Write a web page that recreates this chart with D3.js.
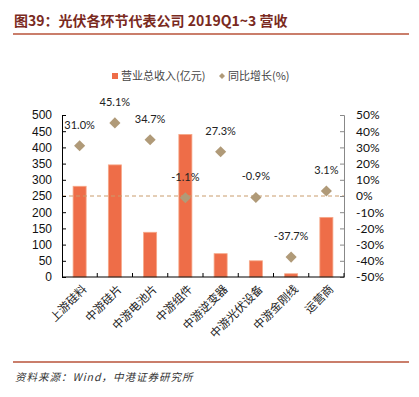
<!DOCTYPE html>
<html>
<head>
<meta charset="utf-8">
<script src="https://cdn.jsdelivr.net/npm/d3@7"></script>
<style>
  body { margin: 0; background: #fff; }
  svg text { font-family: "Liberation Sans", Arial, sans-serif; }
</style>
</head>
<body>
<div id="chart"></div>
<script>
const categories = ["上游硅料", "中游硅片", "中游电池片", "中游组件", "中游逆变器", "中游光伏设备", "中游金刚线", "运营商"];
const revenue = [280, 346, 138, 440, 72, 50, 10, 184];
const growth = [31.0, 45.1, 34.7, -1.1, 27.3, -0.9, -37.7, 3.1];
const leftTicks = [0, 50, 100, 150, 200, 250, 300, 350, 400, 450, 500];
const rightTicks = [-50, -40, -30, -20, -10, 0, 10, 20, 30, 40, 50];

const W = 419, H = 397;
const margin = { top: 115, right: 75, bottom: 120, left: 62 },
      width = W - margin.left - margin.right,
      height = H - margin.top - margin.bottom;

const svg = d3.select("#chart").append("svg")
    .attr("width", W)
    .attr("height", H);

// title + rules
svg.append("text")
    .attr("x", 14).attr("y", 26)
    .style("font-family", "'Noto Sans CJK SC', sans-serif")
    .style("font-weight", "bold")
    .style("font-size", "14px")
    .attr("fill", "#7a2a1e")
    .text("图39：光伏各环节代表公司 2019Q1~3 营收");

svg.append("line")
    .attr("x1", 13).attr("x2", 409).attr("y1", 34).attr("y2", 34)
    .attr("stroke", "#b8533a").attr("stroke-width", 1.5);

svg.append("line")
    .attr("x1", 13).attr("x2", 409).attr("y1", 362).attr("y2", 362)
    .attr("stroke", "#b8533a").attr("stroke-width", 1.5);

svg.append("text")
    .attr("x", 15).attr("y", 381)
    .style("font-family", "'Noto Sans CJK SC', sans-serif")
    .style("font-style", "italic")
    .style("font-size", "10.5px")
    .style("letter-spacing", "1px")
    .attr("fill", "#333")
    .text("资料来源：Wind，中港证券研究所");

// legend
const legend = svg.append("g").attr("transform", "translate(0,76)");
legend.append("rect").attr("x", 112).attr("y", -3).attr("width", 6).attr("height", 6).attr("fill", "#ee6d48");
legend.append("text").attr("x", 121).attr("y", 4)
    .style("font-family", "'Noto Sans CJK SC', sans-serif")
    .style("font-size", "11px").attr("fill", "#444")
    .text("营业总收入(亿元)");
legend.append("path")
    .attr("d", d3.symbol(d3.symbolSquare, 18)())
    .attr("transform", "translate(222,0) rotate(45)")
    .attr("fill", "#b09a78");
legend.append("text").attr("x", 228).attr("y", 4)
    .style("font-family", "'Noto Sans CJK SC', sans-serif")
    .style("font-size", "11px").attr("fill", "#444")
    .text("同比增长(%)");

const g = svg.append("g")
    .attr("transform", "translate(" + margin.left + "," + margin.top + ")");

const x = d3.scaleBand().domain(categories).range([0, width]).paddingInner(0.63).paddingOuter(0.315);
const y = d3.scaleLinear().domain([0, 500]).range([height, 0]);
const y2 = d3.scaleLinear().domain([-50, 50]).range([height, 0]);

// bars
g.selectAll(".bar")
    .data(categories)
  .enter().append("rect")
    .attr("class", "bar")
    .attr("x", d => x(d))
    .attr("width", x.bandwidth())
    .attr("y", (d, i) => y(revenue[i]))
    .attr("height", (d, i) => height - y(revenue[i]))
    .attr("fill", "#ee6d48")
    .attr("stroke", "#f6a888")
    .attr("stroke-width", 0.8);

// zero line of growth
g.append("line")
    .attr("x1", 0).attr("x2", width)
    .attr("y1", y2(0)).attr("y2", y2(0))
    .attr("stroke", "#c99c6c")
    .attr("stroke-dasharray", "4,3");

// left axis
const axL = g.append("g")
    .call(d3.axisLeft(y).tickValues(leftTicks).tickSize(-4).tickPadding(10));
axL.select(".domain").attr("stroke", "#000");
axL.selectAll(".tick line").attr("stroke", "#000");
axL.selectAll("text").style("font-size", "12px").attr("fill", "#111");

// right axis
const axR = g.append("g")
    .attr("transform", "translate(" + width + ",0)")
    .call(d3.axisRight(y2).tickValues(rightTicks).tickSize(-4).tickPadding(12).tickFormat(d => d + "%"));
axR.select(".domain").attr("stroke", "#888");
axR.selectAll(".tick line").attr("stroke", "#888");
axR.selectAll("text")
    .style("font-family", "Lato, 'Open Sans', sans-serif")
    .style("font-size", "12px").attr("fill", "#111");

// bottom axis with ticks between categories
const xb = g.append("g").attr("transform", "translate(0," + height + ")");
xb.append("line").attr("x1", 0).attr("x2", width).attr("stroke", "#000");
const step = x.step();
xb.selectAll(".sep")
    .data(d3.range(1, categories.length + 1))
  .enter().append("line")
    .attr("x1", d => x(categories[0]) - x.step() * x.paddingInner() / 2 + d * step)
    .attr("x2", d => x(categories[0]) - x.step() * x.paddingInner() / 2 + d * step)
    .attr("y1", 0).attr("y2", -4)
    .attr("stroke", "#000");
xb.selectAll(".xl")
    .data(categories)
  .enter().append("text")
    .attr("transform", d => "translate(" + (x(d) + x.bandwidth() / 2 + 5) + ",10) rotate(-45)")
    .attr("text-anchor", "end")
    .attr("dy", "0.35em")
    .style("font-family", "'Noto Sans CJK SC', sans-serif")
    .style("font-size", "11.5px")
    .attr("fill", "#222")
    .text(d => d);

// growth markers
g.selectAll(".pt")
    .data(categories)
  .enter().append("path")
    .attr("d", d3.symbol(d3.symbolSquare, 62)())
    .attr("transform", (d, i) => "translate(" + (x(d) + x.bandwidth() / 2) + "," + y2(growth[i]) + ") rotate(45)")
    .attr("fill", "#b09a78");

g.selectAll(".lbl")
    .data(categories)
  .enter().append("text")
    .attr("x", d => x(d) + x.bandwidth() / 2)
    .attr("y", (d, i) => y2(growth[i]) - 17)
    .attr("text-anchor", "middle")
    .style("font-family", "Lato, 'Open Sans', sans-serif")
    .style("font-size", "11px")
    .attr("fill", "#222")
    .text((d, i) => growth[i].toFixed(1) + "%");
</script>
</body>
</html>
